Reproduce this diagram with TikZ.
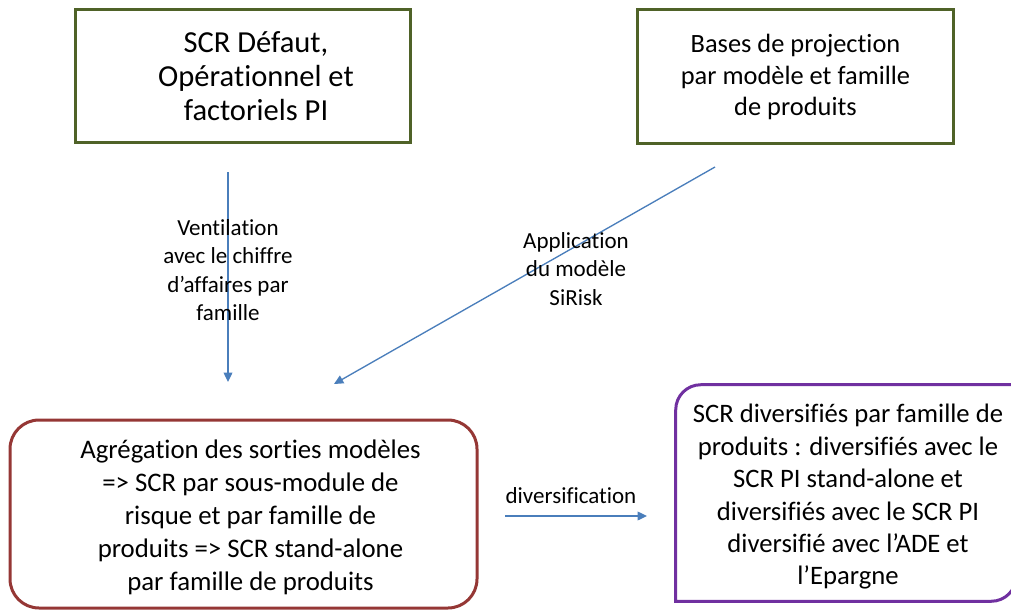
\documentclass[tikz,border=0pt]{standalone}
\usepackage{fontspec}
\setmainfont{Carlito}[RawFeature={-liga;-clig;-dlig;-calt;-rlig}]
\usetikzlibrary{arrows.meta}
\definecolor{olivebox}{HTML}{4F6228}
\definecolor{redbox}{HTML}{953735}
\definecolor{purplebox}{HTML}{7030A0}
\definecolor{arrowblue}{HTML}{4A7EBB}
\begin{document}
\begin{tikzpicture}[x=0.75pt,y=-0.75pt,
  greenbox/.style={draw=olivebox, line width=2.25pt, inner sep=0pt},
  aggbox/.style={draw=redbox, line width=2.25pt, rounded corners=21.75pt, inner sep=0pt},
  divbox/.style={inner sep=0pt},
  divline/.style={draw=purplebox, line width=2.25pt},
  boxtext/.style={align=center, inner sep=0pt},
  flow/.style={draw=arrowblue, line width=1pt, -{Triangle[length=7pt,width=6.5pt]}},
  lbl/.style={align=center, inner sep=0pt, font=\fontsize{17.25pt}{21.4pt}\selectfont}]
\useasboundingbox (0,0) rectangle (1011,610);
\clip (0,0) rectangle (1011,610);

% source boxes
\node[greenbox, minimum width=251.25pt, minimum height=99.75pt] (scr) at (242.5,76.5) {};
\node[boxtext, font=\fontsize{22.9pt}{25.5pt}\selectfont] (scrtext) at (256,76.5)
  {SCR Défaut,\\Opérationnel et\\factoriels PI};
\node[greenbox, minimum width=237pt, minimum height=100.5pt] (bases) at (795,77) {};
\node[boxtext, font=\fontsize{19.8pt}{23.6pt}\selectfont] (basestext) at (795.5,77)
  {Bases de projection\\par modèle et famille\\de produits};

% aggregation box
\node[aggbox, minimum width=350.25pt, minimum height=141pt] (agg) at (243.5,514) {};
\node[boxtext, font=\fontsize{20.1pt}{24.7pt}\selectfont] (aggtext) at (250.5,517)
  {Agrégation des sorties modèles\\=> SCR par sous-module de\\risque et par famille de\\produits => SCR stand-alone\\par famille de produits};

% diversified box (rounded on two opposite corners)
\node[divbox, minimum width=255pt, minimum height=162pt] (div) at (846,493) {};
\draw[divline] (div.south west) -- ([yshift=-18.75pt]div.north west)
  arc[start angle=180, end angle=90, radius=18.75pt] -- (div.north east)
  -- ([yshift=18.75pt]div.south east)
  arc[start angle=0, end angle=-90, radius=18.75pt] -- cycle;
\node[boxtext, font=\fontsize{20pt}{24.3pt}\selectfont] (divtext) at (848,497)
  {SCR diversifiés par famille de\\produits : diversifiés avec le\\SCR PI stand-alone et\\diversifiés avec le SCR PI\\diversifié avec l’ADE et\\l’Epargne};

% arrow end points
\coordinate (ventA) at (228,172);
\coordinate (ventB) at (228,382);
\coordinate (appA) at (715,167);
\coordinate (appB) at (334,384);
\coordinate (divA) at (505,516);
\coordinate (divB) at (647,516);

\draw[flow] (ventA) -- (ventB);
\draw[flow] (appA) -- (appB);
\draw[flow] (divA) -- (divB);

% arrow labels
\node[lbl] (ventlbl) at (228,270) {Ventilation\\avec le chiffre\\d’affaires par\\famille};
\node[lbl] (applbl) at (576,269) {Application\\du modèle\\SiRisk};
\node[lbl] (divlbl) at (571,496) {diversification};
\end{tikzpicture}
\end{document}
